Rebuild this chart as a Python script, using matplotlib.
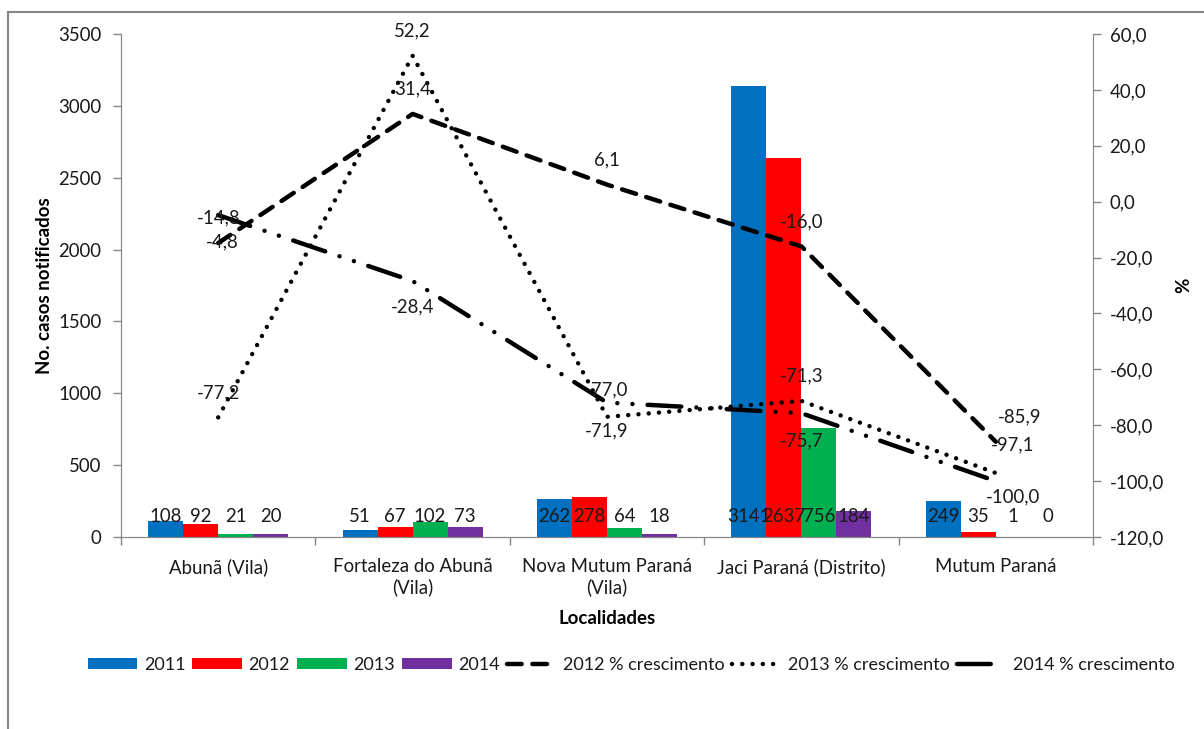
import matplotlib
matplotlib.use("Agg")
import matplotlib.pyplot as plt
from matplotlib.lines import Line2D
from matplotlib.patches import Patch
import numpy as np

plt.rcParams['font.family'] = ['Lato', 'DejaVu Sans']

# Data
localidades = ["Abunã (Vila)", "Fortaleza do Abunã\n(Vila)", "Nova Mutum Paraná\n(Vila)",
               "Jaci Paraná (Distrito)", "Mutum Paraná"]
casos_2011 = [108, 51, 262, 3141, 249]
casos_2012 = [92, 67, 278, 2637, 35]
casos_2013 = [21, 102, 64, 756, 1]
casos_2014 = [20, 73, 18, 184, 0]
cresc_2012 = [-14.8, 31.4, 6.1, -16.0, -85.9]
cresc_2013 = [-77.2, 52.2, -77.0, -71.3, -97.1]
cresc_2014 = [-4.8, -28.4, -71.9, -75.7, -100.0]
anos = ["2011", "2012", "2013", "2014"]
cores = ["#0070C0", "#FF0000", "#00B050", "#7030A0"]

W, H = 1204, 729
fig = plt.figure(figsize=(W / 100, H / 100), dpi=100)
ax = fig.add_axes([121 / W, 1 - 537 / H, (1093 - 121) / W, (537 - 34) / H])
ax2 = ax.twinx()

grey = "#868686"
txt = "#1a1a1a"
fs = 13.4
x = np.arange(len(localidades))
bw = 0.18
series = [casos_2011, casos_2012, casos_2013, casos_2014]
for i, (vals, cor) in enumerate(zip(series, cores)):
    pos = x + (i - 1.5) * bw
    ax.bar(pos, vals, width=bw, color=cor, zorder=2)
    for p, v in zip(pos, vals):
        ax.annotate(f"{v}", (p, 0), xytext=(0, 14.4), textcoords="offset points",
                    ha="center", va="center", fontsize=fs, color=txt)

ax.set_xlim(-0.5, len(localidades) - 0.5)
ax.set_ylim(0, 3500)
ax.set_yticks(np.arange(0, 3501, 500))
ax.set_xticks(np.arange(-0.5, len(localidades), 1.0))
ax.set_xticklabels([])
ax.set_xticks(x, minor=True)
ax.set_xticklabels(localidades, minor=True, fontsize=fs, linespacing=1.25, color=txt)
ax.tick_params(axis="x", which="minor", length=0, pad=15)
ax.tick_params(axis="x", which="major", length=6, color=grey, width=1)
ax.tick_params(axis="y", length=6, color=grey, width=1, labelsize=fs, pad=8,
               labelcolor=txt)
ax.set_ylabel("No. casos notificados", fontsize=fs, fontweight="bold", color="black")
ax.yaxis.set_label_coords((53 - 121) / 972, 0.5)
ax.set_xlabel("Localidades", fontsize=fs, fontweight="bold", labelpad=10)

for a in (ax, ax2):
    a.spines["top"].set_visible(False)
    for s in ("left", "right", "bottom"):
        a.spines[s].set_color(grey)
ax.spines["right"].set_visible(False)

# Growth lines on the secondary axis
lw = 3.2
l12, = ax2.plot(x, cresc_2012, color="black", lw=lw, dash_capstyle="round",
                linestyle=(0, (3.3, 2.4)), zorder=3)
l13, = ax2.plot(x, cresc_2013, color="black", lw=lw, dash_capstyle="round",
                linestyle=(0, (0.01, 2.3)), zorder=3)
l14, = ax2.plot(x, cresc_2014, color="black", lw=lw, dash_capstyle="round",
                linestyle=(0, (7.6, 3.4, 0.01, 3.4, 0.01, 3.4)), zorder=3)
ax2.set_ylim(-120, 60)
ax2.set_yticks(np.arange(-120, 61, 20))
ax2.set_yticklabels([f"{v:.1f}".replace(".", ",") for v in np.arange(-120, 61, 20)])
ax2.tick_params(axis="y", length=6, color=grey, width=1, labelsize=fs, pad=6,
                labelcolor=txt)
ax2.set_ylabel("%", fontsize=fs, fontweight="bold")
ax2.yaxis.set_label_coords((1175 - 121) / 972, 0.5)

def fmt(v):
    return f"{v:.1f}".replace(".", ",")

px = 0.72
off12 = [(0, 25), (0, 25), (0, 25), (0, 25), (24, 25)]
off13 = [(0, 25), (0, 25), (0, 27), (0, 25), (17, 28)]
off14 = [(4, -27), (0, -26), (0, -28), (0, -28), (17, -16)]
for vals, offs in ((cresc_2012, off12), (cresc_2013, off13), (cresc_2014, off14)):
    for xi, v, (dx, dy) in zip(x, vals, offs):
        ax2.annotate(fmt(v), (xi, v), xytext=(dx * px, dy * px), textcoords="offset points",
                     ha="center", va="center", fontsize=fs, color=txt, zorder=4)

# Legend (the long dash-dot key shows only its leading dash)
h14 = Line2D([], [], color="black", lw=lw, dash_capstyle="round", linestyle=(0, (7.6, 20)))
handles = [Patch(facecolor=c, edgecolor="none") for c in cores] + [l12, l13, h14]
labels = anos + ["2012 % crescimento", "2013 % crescimento", "2014 % crescimento"]
fig.legend(handles, labels, loc="center", bbox_to_anchor=(631 / W, 1 - 665 / H),
           ncol=7, frameon=False, fontsize=13, handlelength=2.75, handleheight=0.55,
           handletextpad=0.35, columnspacing=0.4, labelcolor=txt)

# Chart area border
fig.add_artist(Line2D([8 / W, 1], [1 - 12 / H, 1 - 12 / H], color=grey, lw=1.5,
                      transform=fig.transFigure))
fig.add_artist(Line2D([8 / W, 8 / W], [0, 1 - 12 / H], color=grey, lw=1.5,
                      transform=fig.transFigure))

fig.savefig("out.png", dpi=100)
